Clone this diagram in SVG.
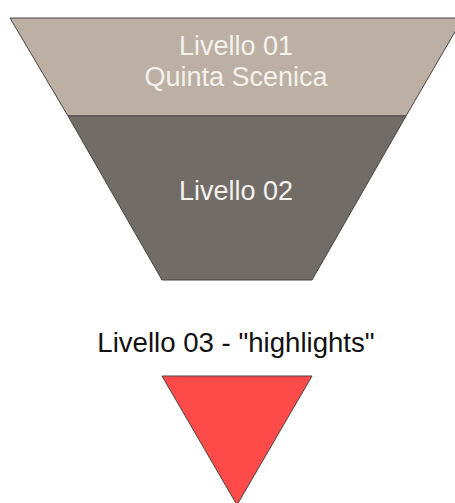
<svg xmlns="http://www.w3.org/2000/svg" width="455" height="503" viewBox="0 0 455 503">
<style>
.shape{stroke:#4a4542;stroke-width:1}
.lbl{font-family:"Liberation Sans",Arial,sans-serif;font-size:27px;text-anchor:middle}
.light{fill:#f4f1ec}
.dark{fill:#111111;font-size:27.6px}
</style>
<rect width="455" height="503" fill="#ffffff"/>
<g id="livello01">
<polygon class="shape" points="10,18 463,18 406,116 68,116" fill="#bcb0a4"/>
<text class="lbl light" x="236" y="55">Livello 01</text>
<text class="lbl light" x="236" y="86">Quinta Scenica</text>
</g>
<g id="livello02">
<polygon class="shape" points="68,116 406,116 312,280 162,280" fill="#716c68"/>
<text class="lbl light" x="236" y="200">Livello 02</text>
</g>
<g id="livello03">
<text class="lbl dark" x="236" y="352">Livello 03 - "highlights"</text>
<polygon class="shape" points="162,376 312,376 237,505" fill="#ff4a4a"/>
</g>
<g id="connectors"/>
</svg>
